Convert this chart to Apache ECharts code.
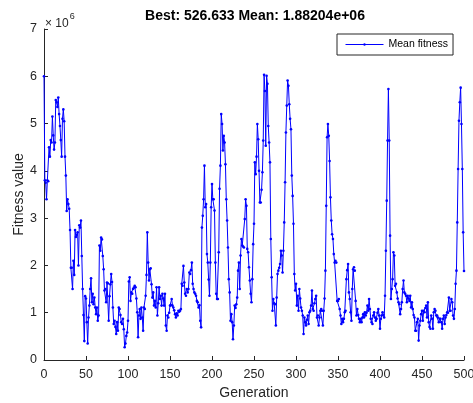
<!DOCTYPE html>
<html>
<head>
<meta charset="utf-8">
<script src="https://cdn.jsdelivr.net/npm/echarts@6/dist/echarts.min.js"></script>
<style>
html,body{margin:0;padding:0;background:#fff;overflow:hidden;}
#chart{width:473px;height:403px;}
</style>
</head>
<body>
<div id="chart"></div>
<script>
// Mean fitness per generation, in units of 1e6 (generation = index, 0..500)
const meanFitness = [
6.0, 3.8, 3.75, 3.4, 3.8, 3.78, 4.5, 4.3, 4.65, 4.6,
5.15, 4.75, 4.45, 4.6, 5.5, 5.45, 5.35, 5.55, 5.2, 4.95,
4.65, 4.3, 5.1, 5.3, 5.05, 4.3, 3.9, 3.15, 3.4, 3.3,
3.2, 2.75, 1.95, 1.95, 1.5, 2.1, 1.8, 2.75, 2.6, 2.65,
2.7, 2.0, 2.85, 2.8, 2.95, 2.2, 1.5, 0.95, 0.4, 1.35,
1.3, 0.8, 0.35, 0.9, 1.15, 1.5, 1.73, 1.22, 1.4, 1.18,
1.32, 1.11, 0.97, 1.11, 0.83, 0.94, 2.42, 2.31, 2.59, 2.55,
2.2, 1.92, 1.47, 1.5, 1.22, 1.64, 1.62, 0.83, 1.35, 1.6,
1.82, 1.65, 1.11, 0.76, 0.83, 0.7, 0.55, 0.8, 0.62, 1.11,
1.08, 0.95, 0.8, 0.76, 0.87, 0.65, 0.27, 0.35, 0.51, 0.58,
0.83, 1.66, 1.75, 1.25, 1.43, 1.4, 1.5, 1.53, 1.57, 1.54,
1.3, 1.01, 0.48, 0.94, 1.08, 0.87, 1.11, 0.9, 0.62, 1.11,
1.08, 1.36, 1.8, 2.7, 2.06, 1.68, 1.92, 1.94, 1.6, 1.32,
1.43, 1.15, 1.25, 1.11, 1.54, 0.94, 1.2, 1.54, 1.29, 1.36,
1.15, 1.4, 1.3, 1.15, 1.4, 0.73, 0.62, 0.94, 0.9, 1.0,
1.15, 1.16, 1.29, 1.15, 1.11, 1.05, 0.97, 0.9, 0.99, 0.94,
1.04, 1.02, 1.04, 1.08, 1.61, 1.57, 1.99, 1.64, 1.4, 1.36,
1.5, 1.43, 1.5, 1.85, 1.82, 1.9, 2.06, 1.61, 1.5, 1.43,
1.4, 1.36, 1.25, 1.22, 1.11, 1.16, 0.83, 0.69, 2.8, 3.05,
3.4, 4.11, 3.23, 3.3, 2.24, 2.06, 1.7, 1.36, 2.06, 3.23,
3.72, 3.4, 3.4, 3.16, 2.06, 1.4, 1.29, 1.29, 2.28, 3.62,
4.11, 5.2, 4.99, 4.43, 4.74, 4.6, 4.14, 3.4, 2.95, 2.38,
1.71, 1.43, 0.83, 0.97, 0.8, 0.44, 0.73, 1.15, 1.1, 1.18,
1.32, 1.89, 2.06, 1.5, 2.21, 2.56, 2.42, 2.4, 2.38, 2.98,
3.4, 3.26, 2.35, 2.28, 1.96, 1.68, 1.4, 1.22, 1.71, 2.45,
2.88, 4.18, 3.93, 4.3, 4.99, 4.67, 4.0, 3.33, 3.33, 3.6,
3.97, 4.64, 6.03, 5.69, 4.53, 6.01, 5.84, 4.95, 4.6, 4.18,
2.56, 1.75, 1.04, 1.29, 1.2, 1.18, 0.73, 1.32, 1.82, 1.89,
1.95, 2.03, 2.31, 2.21, 1.85, 2.31, 2.91, 3.76, 4.81, 5.38,
5.91, 5.8, 5.41, 5.1, 4.88, 3.9, 3.47, 2.88, 1.82, 1.47,
1.61, 1.15, 1.36, 1.04, 1.5, 1.3, 1.11, 1.04, 0.94, 0.55,
0.9, 0.8, 0.73, 0.85, 0.94, 0.76, 1.01, 1.04, 1.15, 1.47,
1.08, 1.04, 1.2, 1.29, 1.36, 0.9, 0.94, 0.73, 0.9, 1.04,
1.08, 1.04, 0.73, 1.04, 1.3, 1.89, 3.26, 4.71, 4.99, 4.74,
4.21, 3.44, 2.95, 2.66, 2.56, 2.24, 2.06, 2.1, 2.06, 1.25,
1.25, 1.29, 1.08, 0.94, 0.76, 0.87, 0.8, 0.87, 1.01, 1.04,
1.71, 1.9, 2.03, 1.43, 1.29, 1.01, 0.83, 1.5, 1.92, 1.96,
1.89, 1.25, 0.94, 1.08, 0.95, 0.87, 0.8, 0.87, 0.8, 0.9,
0.97, 0.9, 1.01, 0.94, 1.0, 1.15, 1.04, 1.29, 1.08, 0.87,
0.8, 0.76, 0.94, 1.01, 0.9, 0.83, 0.87, 1.0, 1.08, 0.94,
0.66, 0.87, 0.94, 1.01, 0.95, 0.9, 1.36, 2.31, 3.37, 4.64,
5.73, 4.64, 2.63, 1.29, 1.5, 1.71, 2.28, 2.21, 1.57, 1.61,
1.43, 1.3, 1.22, 1.18, 0.97, 1.08, 1.22, 1.5, 1.68, 1.43,
1.4, 1.36, 1.22, 1.36, 1.3, 1.25, 1.36, 1.11, 1.22, 1.08,
0.95, 0.9, 0.62, 0.62, 0.8, 0.87, 0.41, 0.73, 0.83, 0.97,
1.04, 0.83, 1.04, 1.01, 1.1, 1.15, 0.9, 1.22, 0.8, 0.7,
0.66, 0.94, 0.87, 0.66, 1.01, 1.08, 1.04, 0.94, 0.94, 0.9,
0.8, 0.87, 0.87, 0.8, 0.66, 0.87, 0.94, 0.76, 0.9, 0.95,
1.01, 1.0, 1.32, 1.04, 1.04, 1.29, 1.22, 0.94, 0.87, 1.08,
1.61, 1.89, 2.91, 4.04, 5.06, 5.45, 5.76, 4.99, 4.04, 2.7,
1.88204
];
const xTicks = [0, 50, 100, 150, 200, 250, 300, 350, 400, 450, 500];
const yTicks = [0, 1, 2, 3, 4, 5, 6, 7];
const titleText = 'Best: 526.633 Mean: 1.88204e+06';
const seriesName = 'Mean fitness';
const xName = 'Generation';
const yName = 'Fitness value';

const FONT = '"Liberation Sans", Arial, Helvetica, sans-serif';
const TXT = '#262626';
const chart = echarts.init(document.getElementById('chart'), null, {renderer: 'canvas'});
const data = meanFitness.map((v, i) => [i, v]);

chart.setOption({
  animation: false,
  backgroundColor: '#ffffff',
  textStyle: {fontFamily: FONT, color: TXT},
  title: {
    text: titleText,
    left: 255, top: 9, textAlign: 'center', padding: 0,
    textStyle: {fontFamily: FONT, fontWeight: 'bold', fontSize: 14, color: '#000'}
  },
  grid: {left: 44, right: 9, top: 29, bottom: 43, containLabel: false, outerBoundsMode: 'none'},
  legend: {
    left: 337, top: 34,
    orient: 'horizontal',
    padding: [5, 5, 5, 8],
    itemWidth: 38, itemHeight: 3, itemGap: 5,
    borderColor: '#262626', borderWidth: 1, backgroundColor: '#fff',
    lineStyle: {width: 1, color: '#0000ff'},
    itemStyle: {color: '#0000ff'},
    textStyle: {fontFamily: FONT, fontSize: 10.5, color: '#000', padding: [1, 0, 0, 0]},
    data: [seriesName]
  },
  xAxis: {
    type: 'value', min: xTicks[0], max: xTicks[xTicks.length - 1], interval: 50,
    name: xName, nameLocation: 'middle', nameGap: 26,
    nameTextStyle: {fontFamily: FONT, fontSize: 14, color: TXT},
    axisLine: {show: true, lineStyle: {color: '#262626', width: 1}},
    axisTick: {show: true, inside: true, length: 4, lineStyle: {color: '#262626'}},
    axisLabel: {fontFamily: FONT, fontSize: 12.5, color: TXT, margin: 8},
    splitLine: {show: false}
  },
  yAxis: {
    type: 'value', min: yTicks[0], max: yTicks[yTicks.length - 1], interval: 1,
    name: yName, nameLocation: 'middle', nameGap: 18, nameRotate: 90,
    nameMoveOverlap: false,
    nameTextStyle: {fontFamily: FONT, fontSize: 14, color: TXT},
    axisLine: {show: true, lineStyle: {color: '#262626', width: 1}},
    axisTick: {show: true, inside: true, length: 4, lineStyle: {color: '#262626'}},
    axisLabel: {fontFamily: FONT, fontSize: 12.5, color: TXT, margin: 7},
    splitLine: {show: false}
  },
  graphic: [{
    type: 'text', left: 45, top: 12,
    style: {
      text: '{a|× 10}{b|6}',
      rich: {
        a: {fontFamily: FONT, fontSize: 12, fill: TXT, padding: [6, 0, 0, 0]},
        b: {fontFamily: FONT, fontSize: 9, fill: TXT, padding: [0, 0, 4, 1], verticalAlign: 'top'}
      }
    }
  }],
  series: [{
    name: seriesName,
    type: 'line',
    data: data,
    showSymbol: true,
    showAllSymbol: true,
    symbol: 'circle',
    symbolSize: 2.6,
    lineStyle: {color: '#0000ff', width: 1},
    itemStyle: {color: '#0000ff'},
    emphasis: {disabled: true}
  }]
});
</script>
</body>
</html>
